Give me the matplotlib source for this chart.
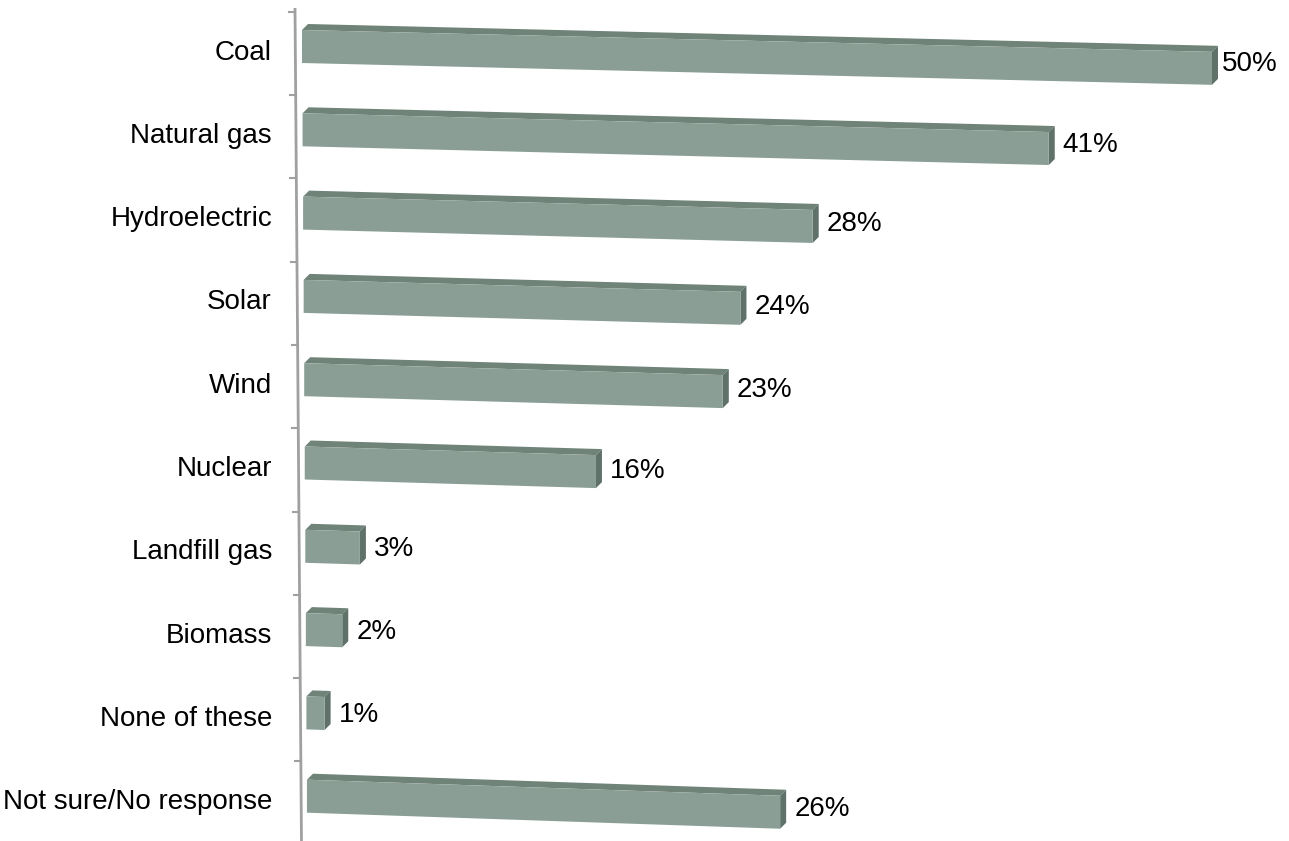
import matplotlib
matplotlib.use("Agg")
import matplotlib.pyplot as plt
from matplotlib.patches import Polygon

categories = ["Coal", "Natural gas", "Hydroelectric", "Solar", "Wind",
              "Nuclear", "Landfill gas", "Biomass", "None of these",
              "Not sure/No response"]
values = [50, 41, 28, 24, 23, 16, 3, 2, 1, 26]
value_labels = ["50%", "41%", "28%", "24%", "23%", "16%", "3%", "2%", "1%", "26%"]

W, H = 1289, 841
PX_PCT = 18.2      # pixels per percent
PX_ROW = 83.3      # pixels per category row
X0_PX = 302.0      # pixel of value 0 (first row)
Y0_PX = 46.5       # pixel of first row centre

fig = plt.figure(figsize=(W / 100, H / 100), dpi=100)
ax = fig.add_axes([0, 0, 1, 1])
ax.set_xlim(-X0_PX / PX_PCT, (W - X0_PX) / PX_PCT)
ax.set_ylim((H - Y0_PX) / PX_ROW, -Y0_PX / PX_ROW)
ax.axis("off")

front_c = "#8A9E96"
top_c = "#6F8379"
side_c = "#5F7169"

h = 16.5 / PX_ROW
dx = 6.0 / PX_PCT
dy = -6.0 / PX_ROW

for i, (cat, v, lab) in enumerate(zip(categories, values, value_labels)):
    r = i
    a = 0.55 * i / PX_PCT
    b = a + v
    slope_px = 0.024 + 0.0011 * i
    k = slope_px * PX_PCT / PX_ROW
    D = k * v
    front = [(a, r - h), (b, r - h + D), (b, r + h + D), (a, r + h)]
    top = [(a, r - h), (b, r - h + D), (b + dx, r - h + D + dy), (a + dx, r - h + dy)]
    side = [(b, r - h + D), (b + dx, r - h + D + dy), (b + dx, r + h + D + dy), (b, r + h + D)]
    ax.add_patch(Polygon(top, closed=True, facecolor=top_c, edgecolor="none", zorder=2))
    ax.add_patch(Polygon(side, closed=True, facecolor=side_c, edgecolor="none", zorder=2))
    ax.add_patch(Polygon(front, closed=True, facecolor=front_c, edgecolor="none", zorder=3))
    gap = 4 if v >= 50 else 8
    ax.text(b + dx + gap / PX_PCT, r + 0.7 * D + 2 / PX_ROW, lab, fontsize=20,
            family="Liberation Sans", ha="left", va="center", color="black")
    ax.text((272 - X0_PX) / PX_PCT, r + 6 / PX_ROW, cat, fontsize=20,
            family="Liberation Sans", ha="right", va="center", color="black")

# slanted category axis
ax_top = (295.0, 8.0)
ax_bot = (301.5, 845.0)
def to_data(px, py):
    return ((px - X0_PX) / PX_PCT, (py - Y0_PX) / PX_ROW)
p1 = to_data(*ax_top)
p2 = to_data(*ax_bot)
ax.plot([p1[0], p2[0]], [p1[1], p2[1]], color="#A0A0A0", lw=2, zorder=1,
        solid_capstyle="butt")
for kk in range(-1, 9):
    ty_px = 95 + PX_ROW * kk
    tx_px = ax_top[0] + (ax_bot[0] - ax_top[0]) * (ty_px - ax_top[1]) / (ax_bot[1] - ax_top[1])
    q1 = to_data(tx_px - 6, ty_px)
    q2 = to_data(tx_px, ty_px)
    ax.plot([q1[0], q2[0]], [q1[1], q2[1]], color="#A0A0A0", lw=1.5, zorder=1)

fig.savefig("out.png", dpi=100)
